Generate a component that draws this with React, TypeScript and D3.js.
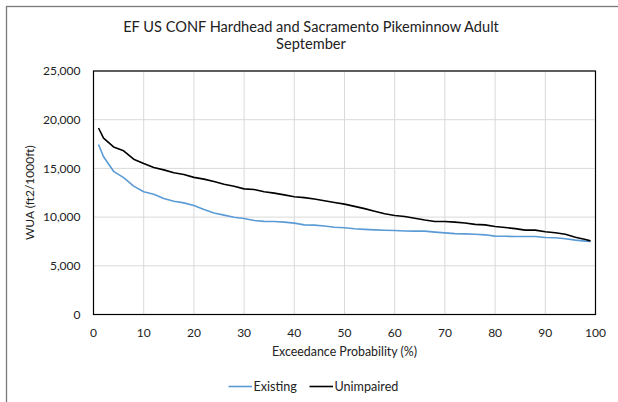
import React from "react";
import * as d3 from "d3";

const probabilities = [1, 2, 4, 6, 8, 10, 12, 14, 16, 18, 20, 22, 24, 26, 28, 30, 32, 34, 36, 38, 40, 42, 44, 46, 48, 50, 52, 54, 56, 58, 60, 62, 64, 66, 68, 70, 72, 74, 76, 78, 80, 82, 84, 86, 88, 90, 92, 94, 96, 98, 99];

const existing = [17450, 16200, 14700, 14050, 13180, 12600, 12340, 11900, 11630, 11460, 11200, 10790, 10430, 10200, 9990, 9860, 9650, 9560, 9555, 9480, 9380, 9200, 9180, 9080, 8960, 8900, 8800, 8740, 8690, 8650, 8630, 8570, 8560, 8560, 8460, 8380, 8300, 8280, 8240, 8180, 8050, 8030, 8015, 8015, 8010, 7910, 7880, 7780, 7640, 7530, 7500];

const unimpaired = [19150, 18100, 17200, 16800, 15950, 15500, 15100, 14850, 14550, 14380, 14080, 13900, 13650, 13380, 13170, 12900, 12830, 12600, 12460, 12280, 12090, 12000, 11850, 11680, 11500, 11330, 11100, 10870, 10600, 10350, 10170, 10060, 9880, 9700, 9550, 9550, 9480, 9400, 9250, 9200, 9040, 8930, 8820, 8660, 8660, 8500, 8400, 8240, 7940, 7700, 7560];

const xTicks = [0, 10, 20, 30, 40, 50, 60, 70, 80, 90, 100];
const yTicks = [0, 5000, 10000, 15000, 20000, 25000];

const titleLines = ["EF US CONF Hardhead and Sacramento Pikeminnow Adult", "September"];
const xTitle = "Exceedance Probability (%)";
const yTitle = "WUA (ft2/1000ft)";
const seriesNames = ["Existing", "Unimpaired"];
const seriesColors = ["#5B9BD5", "#000000"];

const W = 618;
const H = 402;
const plot = { left: 93.5, right: 595.5, top: 71, bottom: 314.5 };
const FONT = "Lato, 'Open Sans', sans-serif";

export default function App() {
  const x = d3.scaleLinear().domain([0, 100]).range([plot.left, plot.right]);
  const y = d3.scaleLinear().domain([0, 25000]).range([plot.bottom, plot.top]);
  const fmt = d3.format(",");
  const series = [existing, unimpaired];
  const line = d3
    .line<number>()
    .x((_, i) => x(probabilities[i]))
    .y((d) => y(d));

  return (
    <svg
      width={W}
      height={H}
      style={{ position: "absolute", left: 0, top: 0, background: "#fff" }}
      fontFamily={FONT}
    >
      <rect x={0} y={0} width={W} height={H} fill="#fff" />
      <rect x={6.5} y={6.5} width={W + 10} height={H + 10} fill="none" stroke="#7a7a7a" strokeWidth={1.3} />
      {titleLines.map((t, i) => (
        <text key={t} x={311} y={31.5 + i * 17} textAnchor="middle" fontSize={14.6} fill="#222">
          {t}
        </text>
      ))}
      {yTicks.map((t) => (
        <line key={"gy" + t} x1={plot.left} x2={plot.right} y1={y(t)} y2={y(t)} stroke="#d9d9d9" strokeWidth={1} />
      ))}
      {xTicks.map((t) => (
        <line key={"gx" + t} x1={x(t)} x2={x(t)} y1={plot.top} y2={plot.bottom} stroke="#d9d9d9" strokeWidth={1} />
      ))}
      <rect
        x={plot.left}
        y={plot.top}
        width={plot.right - plot.left}
        height={plot.bottom - plot.top}
        fill="none"
        stroke="#000"
        strokeWidth={1.2}
      />
      {series.map((s, i) => (
        <path key={seriesNames[i]} d={line(s) || ""} fill="none" stroke={seriesColors[i]} strokeWidth={1.6} strokeLinejoin="round" />
      ))}
      {yTicks.map((t) => (
        <text key={"ty" + t} x={80.5} y={y(t)} dy="0.35em" textAnchor="end" fontSize={12} fill="#222">
          {fmt(t)}
        </text>
      ))}
      {xTicks.map((t) => (
        <text key={"tx" + t} x={x(t)} y={333} dy="0.35em" textAnchor="middle" fontSize={12} fill="#222">
          {t}
        </text>
      ))}
      <text x={(plot.left + plot.right) / 2} y={352} dy="0.35em" textAnchor="middle" fontSize={12.4} fill="#222">
        {xTitle}
      </text>
      <text
        transform={`translate(30,${(plot.top + plot.bottom) / 2}) rotate(-90)`}
        textAnchor="middle"
        dy="0.35em"
        fontSize={12}
        fill="#222"
      >
        {yTitle}
      </text>
      {seriesNames.map((n, i) => {
        const lx = i === 0 ? 228.5 : 309.5;
        return (
          <g key={n}>
            <line x1={lx} x2={lx + 23.5} y1={386.5} y2={386.5} stroke={seriesColors[i]} strokeWidth={1.6} />
            <text x={lx + 25} y={386.5} dy="0.35em" fontSize={12.6} fill="#222">
              {n}
            </text>
          </g>
        );
      })}
    </svg>
  );
}
